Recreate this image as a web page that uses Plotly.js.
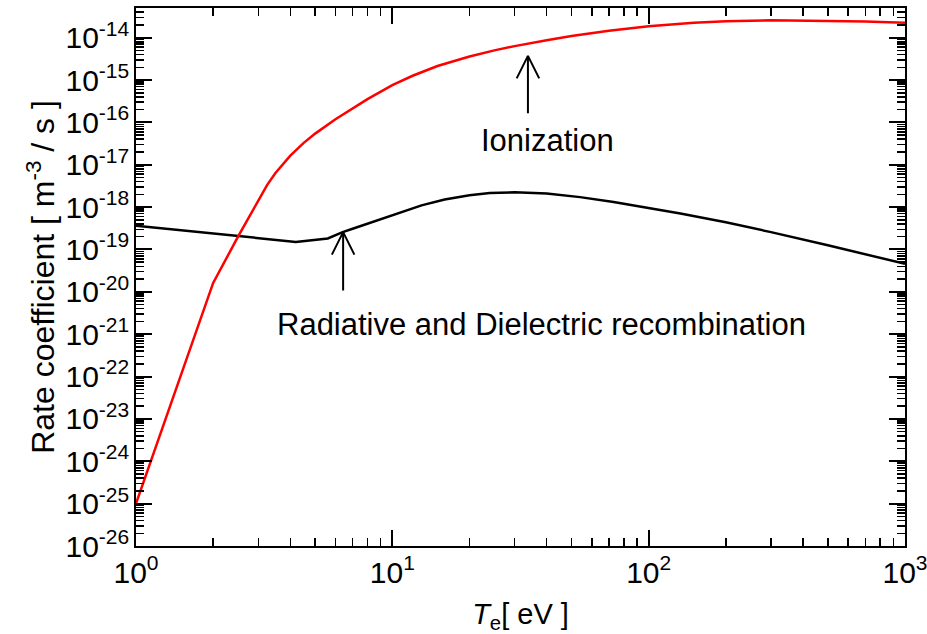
<!DOCTYPE html>
<html>
<head>
<meta charset="utf-8">
<script src="https://cdn.plot.ly/plotly-3.0.1.min.js"></script>
<style>
html,body{margin:0;padding:0;background:#fff;}
#chart{width:927px;height:634px;}
</style>
</head>
<body>
<div id="chart"></div>
<script>
// Ionization rate coefficient (red)
const ionTe   = [1, 2, 2.5, 3, 3.25, 3.5, 3.75, 4, 4.5, 5, 6, 7, 8, 10, 12, 15, 20, 25, 30,
                 40, 50, 70, 100, 150, 200, 300, 500, 700, 1000];
const ionRate = [1.0e-25, 1.62e-20, 2.0e-19, 1.48e-18, 3.35e-18, 6.38e-18, 1.07e-17, 1.64e-17,
                 3.24e-17, 5.43e-17, 1.19e-16, 2.17e-16, 3.55e-16, 7.59e-16, 1.26e-15, 2.14e-15,
                 3.59e-15, 5.01e-15, 6.31e-15, 8.71e-15, 1.10e-14, 1.45e-14, 1.86e-14, 2.24e-14,
                 2.45e-14, 2.57e-14, 2.51e-14, 2.40e-14, 2.24e-14];

// Radiative and dielectric recombination rate coefficient (black)
const recTe   = [1, 2, 3, 4.2, 5.6, 6.4, 7, 8, 10, 11.5, 13, 16, 20, 24, 30, 40, 54, 73,
                 100, 133, 200, 300, 500, 1000];
const recRate = [3.63e-19, 2.40e-19, 1.91e-19, 1.51e-19, 1.82e-19, 2.57e-19, 3.09e-19, 4.07e-19,
                 6.46e-19, 8.71e-19, 1.10e-18, 1.51e-18, 1.91e-18, 2.14e-18, 2.24e-18, 2.09e-18,
                 1.72e-18, 1.32e-18, 9.55e-19, 7.08e-19, 4.37e-19, 2.57e-19, 1.26e-19, 4.57e-20];

// Tick labels (default power-format label -> shown label)
const xTickDefault = ['1', '10', '10<sup>2</sup>', '10<sup>3</sup>'];
const xTickText    = ['10<sup>0</sup>', '10<sup>1</sup>', '10<sup>2</sup>', '10<sup>3</sup>'];
const yExponents   = [26, 25, 24, 23, 22, 21, 20, 19, 18, 17, 16, 15, 14];
const yTickText    = ['10<sup>-26</sup>', '10<sup>-25</sup>', '10<sup>-24</sup>', '10<sup>-23</sup>',
                      '10<sup>-22</sup>', '10<sup>-21</sup>', '10<sup>-20</sup>', '10<sup>-19</sup>',
                      '10<sup>-18</sup>', '10<sup>-17</sup>', '10<sup>-16</sup>', '10<sup>-15</sup>',
                      '10<sup>-14</sup>'];

const xAlias = {};
xTickDefault.forEach((k, i) => { xAlias[k] = xTickText[i]; });
const yAlias = {};
yExponents.forEach((e, i) => { yAlias['10<sup>\u2212' + e + '</sup>'] = yTickText[i]; });

const FONT = 'Liberation Sans, Arial, Helvetica, sans-serif';

const traces = [
  {x: recTe, y: recRate, type: 'scatter', mode: 'lines',
   line: {color: '#000000', width: 2.5}, name: 'Recombination'},
  {x: ionTe, y: ionRate, type: 'scatter', mode: 'lines',
   line: {color: '#ff0000', width: 2.5}, name: 'Ionization'}
];

function arrow(x, y, ax, ay) {
  return {x: x, y: y, xref: 'x', yref: 'y', ax: ax, ay: ay, axref: 'pixel', ayref: 'pixel',
          text: '', showarrow: true, arrowhead: 0, arrowwidth: 2, arrowcolor: '#000',
          standoff: 0, startstandoff: 0};
}
function vArrow(x, y, len) {
  return [arrow(x, y, 0, len), arrow(x, y, -12, 24), arrow(x, y, 12, 24)];
}

const annotations = [
  ...vArrow(1.529, -14.43, 59),
  ...vArrow(0.808, -18.59, 60),
  {x: 1.607, y: -16.42, xref: 'x', yref: 'y', text: 'Ionization', showarrow: false,
   font: {family: FONT, size: 31, color: '#000'}},
  {x: 1.58, y: -20.76, xref: 'x', yref: 'y', text: 'Radiative and Dielectric recombination',
   showarrow: false, font: {family: FONT, size: 31, color: '#000'}}
];

const axisCommon = {
  type: 'log', showgrid: false, zeroline: false,
  showline: true, linecolor: '#000', linewidth: 2, mirror: 'allticks',
  ticks: 'inside', ticklen: 16, tickwidth: 2, tickcolor: '#000',
  tickmode: 'linear', tick0: 0, dtick: 1, exponentformat: 'power',
  ticklabeloverflow: 'allow',
  tickfont: {family: FONT, size: 24, color: '#000'},
  minor: {dtick: 'D1', ticks: 'inside', ticklen: 8, tickwidth: 1.5, tickcolor: '#000', showgrid: false}
};

const layout = {
  width: 927, height: 634,
  margin: {l: 136, r: 22, t: 8, b: 88},
  paper_bgcolor: '#fff', plot_bgcolor: '#fff',
  showlegend: false,
  font: {family: FONT, color: '#000'},
  xaxis: Object.assign({}, axisCommon, {
    range: [0, 3], labelalias: xAlias,
    title: {text: '<i>T</i><sub>e</sub>[ eV ]', font: {family: FONT, size: 29, color: '#000'}, standoff: 16}
  }),
  yaxis: Object.assign({}, axisCommon, {
    range: [-26, -13.3], labelalias: yAlias,
    title: {text: 'Rate coefficient [ m<sup>-3</sup> / s ]', font: {family: FONT, size: 32, color: '#000'}, standoff: 1}
  }),
  annotations: annotations
};

Plotly.newPlot('chart', traces, layout, {displayModeBar: false, staticPlot: true});
</script>
</body>
</html>
